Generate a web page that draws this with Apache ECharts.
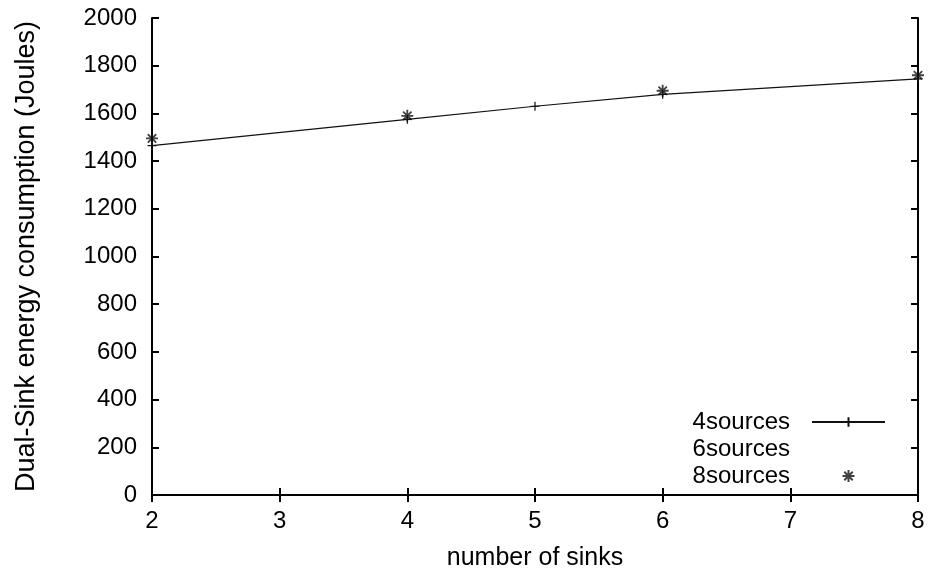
<!DOCTYPE html>
<html>
<head>
<meta charset="utf-8">
<script src="https://cdn.jsdelivr.net/npm/echarts@6/dist/echarts.min.js"></script>
<style>
  html, body { margin: 0; padding: 0; background: #fff; }
  #chart { width: 930px; height: 576px; }
</style>
</head>
<body>
<div id="chart"></div>
<script>
// Energy used by the dual-sink scheme as the number of sinks grows
const seriesNames = ['4sources', '6sources', '8sources'];
const sinks4 = [2, 4, 5, 6, 8];
const energy4 = [1465, 1575, 1630, 1680, 1745];
const sinks6 = [];
const energy6 = [];
const sinks8 = [2, 4, 6, 8];
const energy8 = [1495, 1590, 1695, 1760];
const xTicks = [2, 3, 4, 5, 6, 7, 8];
const yTicks = [0, 200, 400, 600, 800, 1000, 1200, 1400, 1600, 1800, 2000];

const pair = (xs, ys) => xs.map((x, i) => [x, ys[i]]);

const PLUS = 'path://M10 0 L10 20 M0 10 L20 10';
const STAR = 'path://M10 0 L10 20 M0 10 L20 10 M3 3 L17 17 M3 17 L17 3';
const FONT = 'Liberation Sans';

const axisLine = { show: true, lineStyle: { color: '#000', width: 2 } };
const tickIn = { show: true, inside: true, length: 7, lineStyle: { color: '#000', width: 2 } };
const plain = v => String(v);

const chart = echarts.init(document.getElementById('chart'));
chart.setOption({
  animation: false,
  backgroundColor: '#fff',
  textStyle: { fontFamily: FONT },
  grid: { left: 152, right: 12, top: 18, bottom: 80 },
  xAxis: [{
    type: 'value', min: xTicks[0], max: xTicks[xTicks.length - 1], interval: 1,
    name: 'number of sinks', nameLocation: 'middle', nameGap: 51,
    nameTextStyle: { fontSize: 25, color: '#000', fontFamily: FONT },
    axisLine: axisLine, axisTick: tickIn,
    axisLabel: { fontSize: 24, color: '#000', margin: 14, fontFamily: FONT, formatter: plain },
    splitLine: { show: false }
  }, {
    type: 'value', position: 'top', min: xTicks[0], max: xTicks[xTicks.length - 1], interval: 1,
    axisLine: axisLine, axisTick: tickIn, axisLabel: { show: false }, splitLine: { show: false }
  }],
  yAxis: [{
    type: 'value', min: yTicks[0], max: yTicks[yTicks.length - 1], interval: 200,
    name: 'Dual-Sink energy consumption (Joules)', nameLocation: 'middle', nameGap: 112,
    nameTextStyle: { fontSize: 27, color: '#000', fontFamily: FONT },
    axisLine: axisLine, axisTick: tickIn,
    axisLabel: { fontSize: 24, color: '#000', margin: 15, fontFamily: FONT, formatter: plain },
    splitLine: { show: false }
  }, {
    type: 'value', position: 'right', min: yTicks[0], max: yTicks[yTicks.length - 1], interval: 200,
    axisLine: axisLine, axisTick: tickIn, axisLabel: { show: false }, splitLine: { show: false }
  }],
  legend: {
    orient: 'vertical', right: 39, top: 405, align: 'right',
    itemWidth: 73, itemHeight: 12, itemGap: 3,
    textStyle: { fontSize: 24, color: '#000', fontFamily: FONT, padding: [0, 17, 0, 0] },
    data: [
      { name: seriesNames[0] },
      { name: seriesNames[1], icon: 'none' },
      { name: seriesNames[2] }
    ]
  },
  series: [{
    name: seriesNames[0], type: 'line', data: pair(sinks4, energy4),
    symbol: PLUS, symbolSize: 9,
    lineStyle: { color: '#111', width: 1.2 },
    itemStyle: { color: 'none', borderColor: '#111', borderWidth: 1.2 }
  }, {
    name: seriesNames[1], type: 'line', data: pair(sinks6, energy6),
    symbol: 'none', lineStyle: { color: '#111', width: 1.2 }
  }, {
    name: seriesNames[2], type: 'scatter', data: pair(sinks8, energy8),
    symbol: STAR, symbolSize: 12,
    itemStyle: { color: 'none', borderColor: '#111', borderWidth: 1.8 }
  }]
});
</script>
</body>
</html>
